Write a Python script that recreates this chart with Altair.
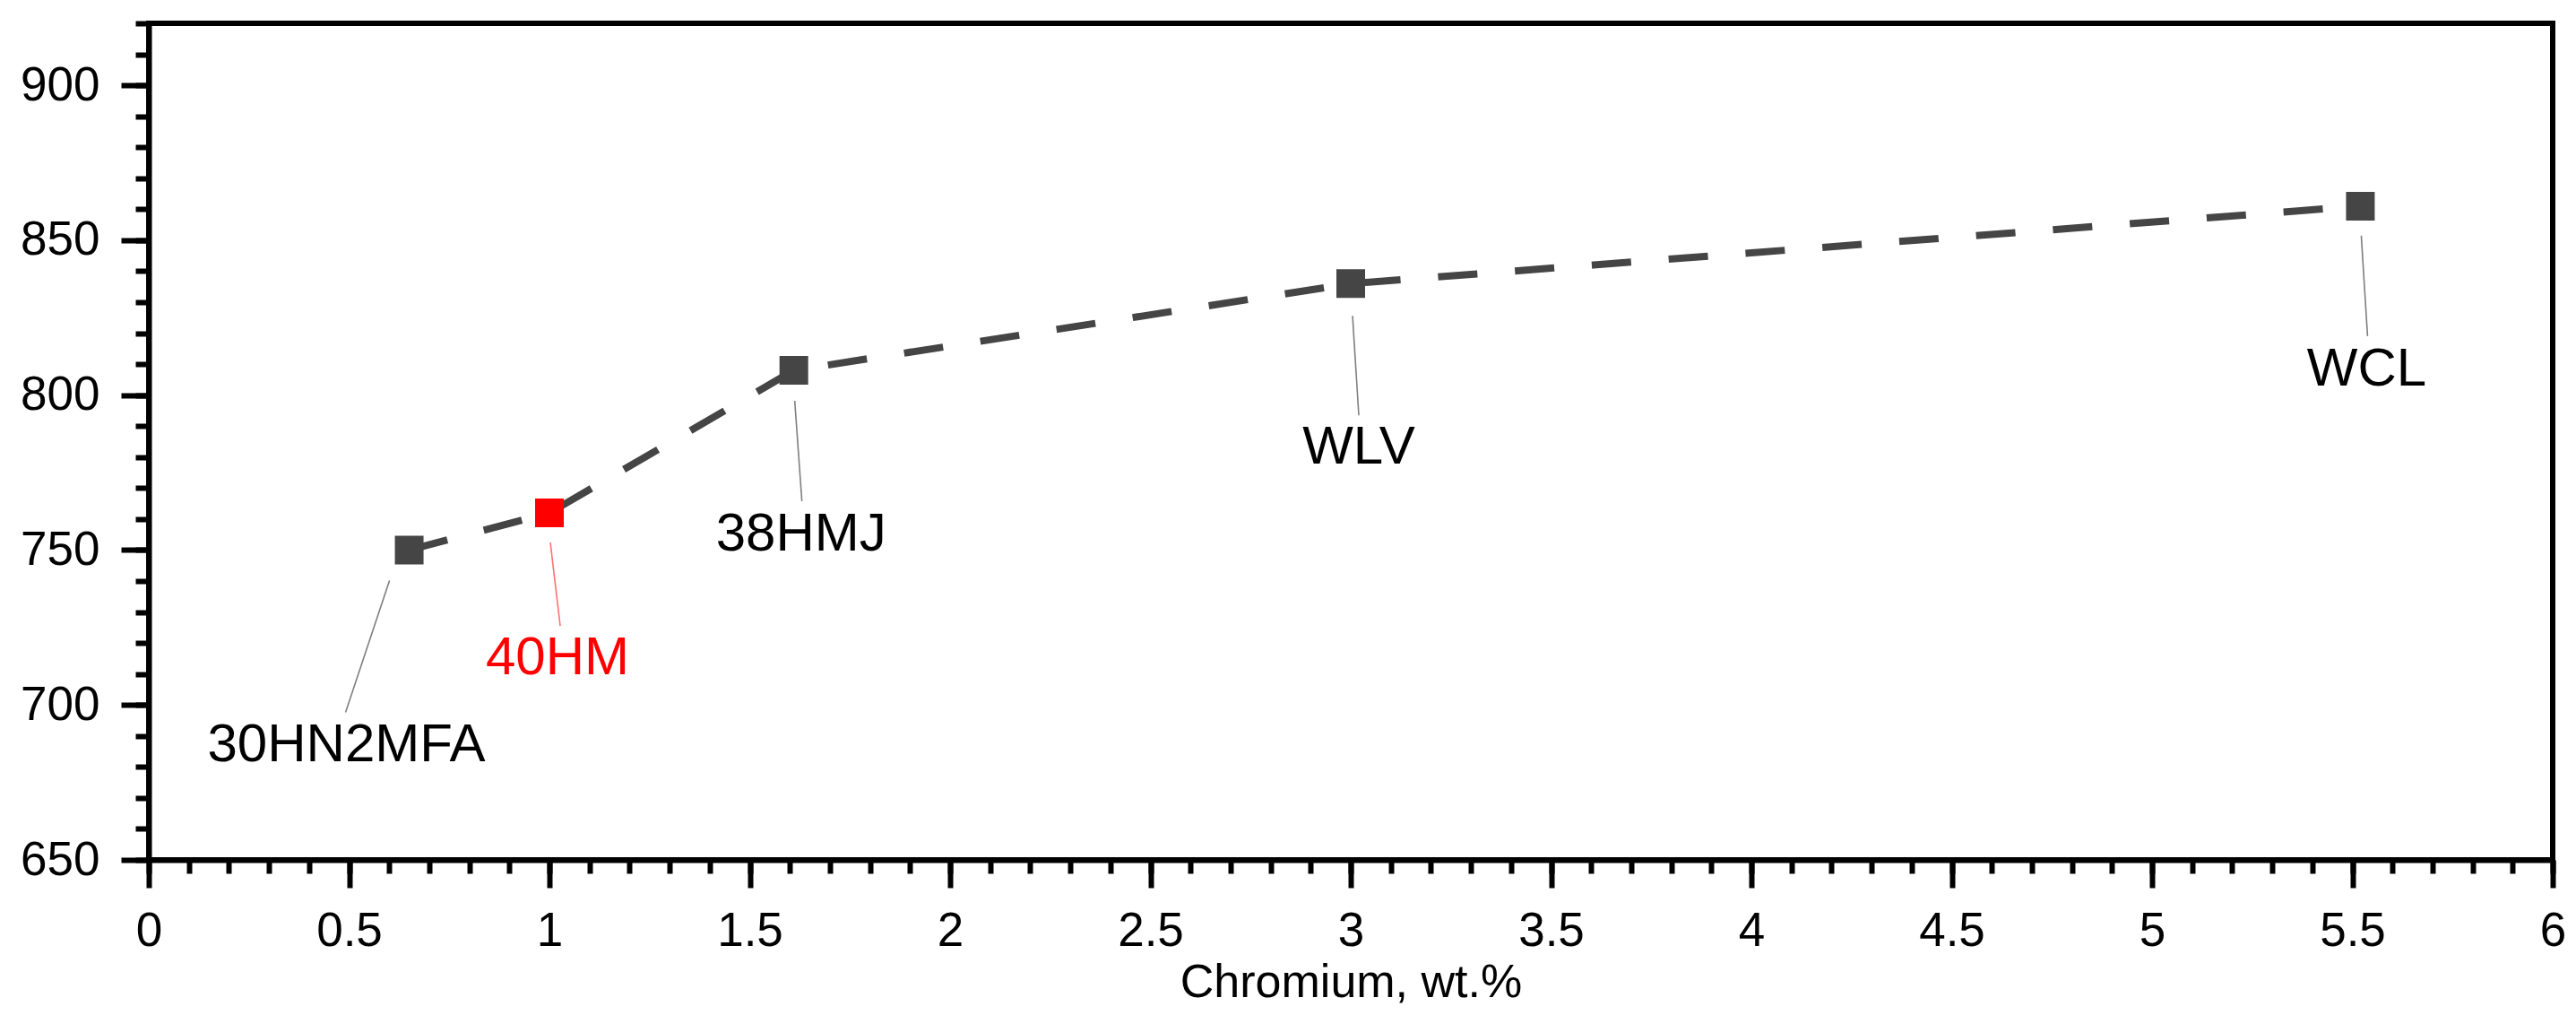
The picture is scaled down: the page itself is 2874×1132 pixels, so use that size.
import altair as alt
import pandas as pd

# ---- data ----
grades = ["30HN2MFA", "40HM", "38HMJ", "WLV", "WCL"]
chromium = [0.65, 1.0, 1.61, 3.0, 5.52]
strength = [750, 762, 808, 836, 861]

x_major_ticks = [0, 0.5, 1, 1.5, 2, 2.5, 3, 3.5, 4, 4.5, 5, 5.5, 6]
x_minor_ticks = [round(i * 0.1, 1) for i in range(0, 61)]
y_major_ticks = [650, 700, 750, 800, 850, 900]
y_minor_ticks = list(range(650, 921, 10))

df = pd.DataFrame({"grade": grades, "cr": chromium, "rm": strength})

# ---- annotation styling (pixel offsets from each point) ----
ann = {
    "30HN2MFA": dict(dx=-70, dy=236, lead=(-22, 34, -71, 181), color="#000000", lcolor="#7f7f7f"),
    "40HM": dict(dx=9, dy=180, lead=(1, 33, 12, 126), color="#ff0000", lcolor="#ff6f6f"),
    "38HMJ": dict(dx=8, dy=201, lead=(1, 34, 9, 146), color="#000000", lcolor="#7f7f7f"),
    "WLV": dict(dx=9, dy=201, lead=(2, 36, 9, 147), color="#000000", lcolor="#7f7f7f"),
    "WCL": dict(dx=7, dy=200, lead=(1, 33, 8, 145), color="#000000", lcolor="#7f7f7f"),
}

FONT = "Liberation Sans"
GRAY = "#454545"

xscale = alt.Scale(domain=[0, 6], nice=False, zero=False)
yscale = alt.Scale(domain=[650, 920], nice=False, zero=False)

common = dict(tickWidth=6, tickColor="#000000", grid=False)

x_axis = alt.Axis(
    values=x_major_ticks, orient="bottom",
    title="Chromium, wt.%",
    titleFont=FONT, titleFontSize=52, titleFontWeight="normal", titleColor="#000000",
    titleBaseline="alphabetic", titleY=152,
    labelFont=FONT, labelFontSize=53, labelColor="#000000", format="~g",
    labelOverlap=False, labelFlush=False, labelPadding=22, tickSize=31,
    domainWidth=6, domainColor="#000000", **common,
)
y_axis = alt.Axis(
    values=y_major_ticks, orient="left",
    title=None,
    labelFont=FONT, labelFontSize=53, labelColor="#000000", format="d",
    labelOverlap=False, labelFlush=False, labelPadding=24, tickSize=31,
    domainWidth=6, domainColor="#000000", **common,
)
x_minor_axis = alt.Axis(
    values=x_minor_ticks, orient="bottom", title=None, labels=False,
    domain=False, tickSize=15, **common,
)
y_minor_axis = alt.Axis(
    values=y_minor_ticks, orient="left", title=None, labels=False,
    domain=False, tickSize=15, **common,
)

base = alt.Chart(df)

line = base.mark_line(
    color=GRAY, strokeWidth=8, strokeDash=[44, 42], strokeCap="butt"
).encode(
    x=alt.X("cr:Q", scale=xscale, axis=x_axis),
    y=alt.Y("rm:Q", scale=yscale, axis=y_axis),
)

points = base.mark_square(size=1024, opacity=1).encode(
    x=alt.X("cr:Q", scale=xscale),
    y=alt.Y("rm:Q", scale=yscale),
    color=alt.condition(alt.datum.grade == "40HM", alt.value("#ff0000"), alt.value(GRAY)),
)

layers = [line]
for g, s in ann.items():
    sub = base.transform_filter(alt.datum.grade == g)
    x0, y0, x1, y1 = s["lead"]
    layers.append(
        sub.mark_rule(
            color=s["lcolor"], strokeWidth=1.6,
            xOffset=x0, yOffset=y0, x2Offset=x1, y2Offset=y1,
        ).encode(
            x=alt.X("cr:Q", scale=xscale),
            y=alt.Y("rm:Q", scale=yscale),
            x2="cr:Q",
            y2="rm:Q",
        )
    )
    layers.append(
        sub.mark_text(
            font=FONT, fontSize=60, color=s["color"], align="center",
            baseline="alphabetic", dx=s["dx"], dy=s["dy"],
        ).encode(
            x=alt.X("cr:Q", scale=xscale),
            y=alt.Y("rm:Q", scale=yscale),
            text="grade:N",
        )
    )
layers.append(points)

main = alt.layer(*layers)

minor = base.mark_point(opacity=0).encode(
    x=alt.X("cr:Q", scale=xscale, axis=x_minor_axis),
    y=alt.Y("rm:Q", scale=yscale, axis=y_minor_axis),
)

chart = alt.layer(minor, main).resolve_scale(
    x="independent", y="independent"
).properties(
    width=2682, height=933,
    autosize=alt.AutoSizeParams(type="none"),
    padding={"left": 158, "top": 18, "right": 18, "bottom": 165},
    background="#ffffff",
).configure_view(
    stroke="#000000", strokeWidth=6
)

chart.save("out.html", embed_options={"renderer": "svg", "actions": False})
